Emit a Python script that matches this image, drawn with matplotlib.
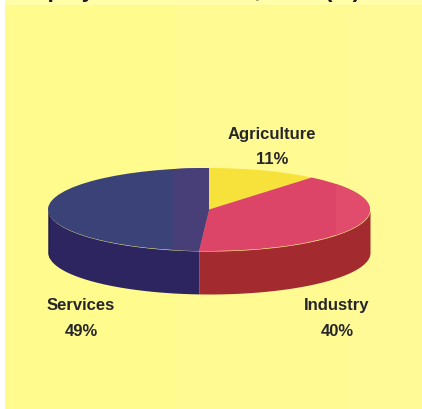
import numpy as np
import matplotlib
matplotlib.use("Agg")
import matplotlib.pyplot as plt
from matplotlib.patches import Rectangle

W, H = 422, 410

sectors = ["Agriculture", "Industry", "Services"]
shares = [11, 40, 49]
top_colors = ["#F7E23C", "#DC4468", "#3A4277"]
side_colors = ["#C9B52E", "#A32A2E", "#2D2560"]
label_pos = [(272, 134), (337, 306), (81, 306)]

title = "Employment structure, 2000 (%)"

plt.rcParams["font.family"] = ["Liberation Sans", "DejaVu Sans"]

# pie geometry in pixels
cx, cy, rx, ry, depth = 209, 210.5, 161, 41.5, 43

fig = plt.figure(figsize=(W / 100, H / 100), dpi=100, facecolor="white")

# background panels
bg = fig.add_axes([0, 0, 1, 1], zorder=0)
bg.set_xlim(0, W)
bg.set_ylim(H, 0)
bg.axis("off")
bg.add_patch(Rectangle((5, 6), W - 5, H - 6, fc="#FFFB8C", ec="none"))
bg.add_patch(Rectangle((175, 6), 170, H - 6, fc="#FFFA92", ec="none"))
bg.add_patch(Rectangle((345, 6), W - 345, H - 6, fc="#FFF996", ec="none"))
bg.add_patch(Rectangle((5, 0), W - 5, 6, fc="#FFFDA8", ec="none"))

# unit circle squashed by the axes limits
ax = fig.add_axes([0, 0, 1, 1], zorder=1)
ax.patch.set_alpha(0)
wedges, _ = ax.pie(shares, colors=top_colors, startangle=90, counterclock=False,
                   radius=1, center=(0, 0), frame=False)
ax.set_aspect("auto")
ax.set_xlim(-cx / rx, (W - cx) / rx)
ax.set_ylim((cy - H) / ry, cy / ry)
ax.axis("off")

# front wall, only the part below the ellipse is visible
d = depth / ry
start = 90.0
for share, color in zip(shares, side_colors):
    stop = start - share * 3.6
    lo, hi = max(stop, -180), min(start, 0)
    if lo < hi:
        t = np.radians(np.linspace(lo, hi, 120))
        x, y = np.cos(t), np.sin(t)
        ax.fill_between(x, y - d, y, color=color, lw=0, zorder=0.5)
    start = stop

# darker rim at the far left of the wall, lighter patches on the top
t = np.radians(np.linspace(-180, -172, 20))
ax.fill_between(np.cos(t), np.sin(t) - d, np.sin(t), color="#24233F", lw=0, zorder=0.6)
shade = Rectangle((-36 / rx, -1.1), 36 / rx, 2.2, fc="#483F78", ec="none", zorder=2)
ax.add_patch(shade)
shade.set_clip_path(wedges[2])
glow = Rectangle((127 / rx, -1.1), 50 / rx, 2.2, fc="#E24C6C", ec="none", zorder=2)
ax.add_patch(glow)
glow.set_clip_path(wedges[1])

# labels
for name, share, (px, py) in zip(sectors, shares, label_pos):
    fig.text(px / W, 1 - py / H, name, ha="center", va="center", fontsize=12,
             fontweight="bold", color="#26262A", zorder=3)
    fig.text(px / W, 1 - (py + 26) / H, f"{share}%", ha="center", va="center", fontsize=12,
             fontweight="bold", color="#26262A", zorder=3)

# heading runs off the top edge
fig.text(12 / W, 1 + 2.5 / H, title, ha="left", va="baseline", fontsize=16.5,
         fontweight="bold", color="#1A1A1A", zorder=3)

fig.savefig("out.png", dpi=100)
